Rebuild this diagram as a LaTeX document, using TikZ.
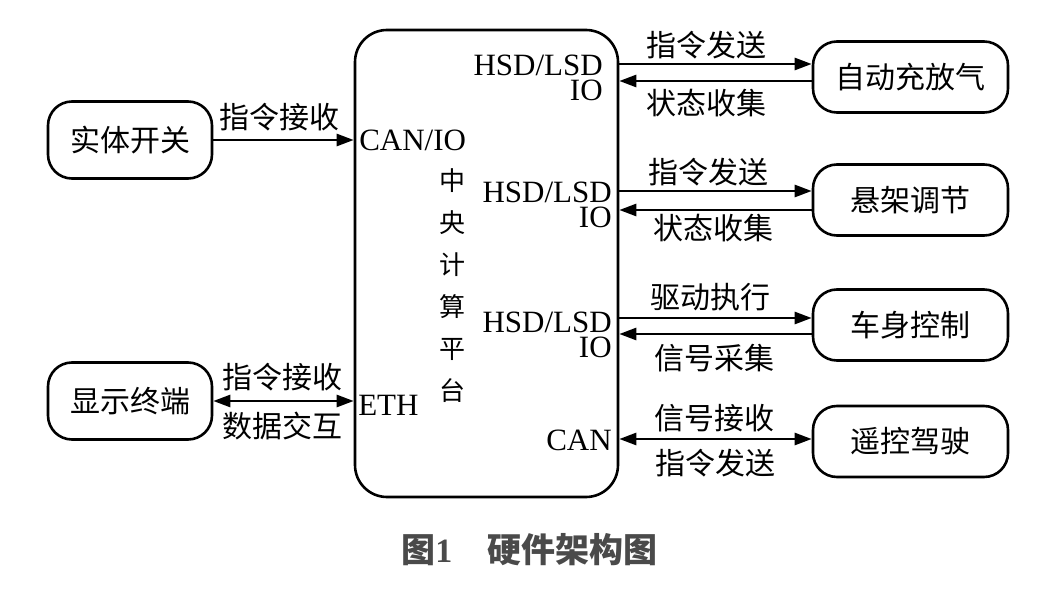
\documentclass[tikz,border=0pt]{standalone}
\usepackage{fontspec}
\setmainfont{Liberation Serif}
\newfontfamily\cjk{Noto Sans CJK SC}
\usetikzlibrary{arrows.meta}
\definecolor{capgray}{HTML}{4A4A4A}
\begin{document}
\begin{tikzpicture}[x=1pt,y=-1pt, line width=2.6pt,
  box/.style={draw, rounded corners=24pt, minimum width=164pt, minimum height=77pt, inner sep=0, font=\cjk\fontsize{30}{32}\selectfont},
  rbox/.style={box, minimum width=195pt, minimum height=71pt},
  lab/.style={inner sep=0, font=\cjk\fontsize{30}{32}\selectfont},
  io/.style={inner sep=0, text height=20.5pt, text depth=0pt, font=\fontsize{31}{32}\selectfont},
  vt/.style={inner sep=0, align=center, font=\cjk\fontsize{26}{42}\selectfont},
  captext/.style={inner sep=0, text=capgray, font=\cjk\bfseries\fontsize{34}{36}\selectfont},
  tip/.style={-{Triangle[length=17pt,width=12pt]}},
  tips/.style={{Triangle[length=17pt,width=12pt]}-{Triangle[length=17pt,width=12pt]}}]
\useasboundingbox (0,0) rectangle (1041,604);
% central platform
\node[draw, rounded corners=32pt, minimum width=263pt, minimum height=467pt, inner sep=0] (cpu) at (486.5,263.5) {};
% left boxes
\node[box] (sw) at (130,140) {实体开关};
\node[box] (disp) at (130,401) {显示终端};
% right boxes
\node[rbox] (air) at (910.5,77) {自动充放气};
\node[rbox] (susp) at (910.5,200) {悬架调节};
\node[rbox] (body) at (910.5,325) {车身控制};
\node[rbox] (rc) at (910.5,441.5) {遥控驾驶};
% texts inside the platform
\node[io, anchor=east] (h1) at (604,65) {HSD/LSD};
\node[io, anchor=east] (i1) at (604,90) {IO};
\node[io, anchor=west] (canio) at (358,140) {CAN/IO};
\node[vt] (name) at (452,286) {中\\央\\计\\算\\平\\台};
\node[io, anchor=east] (h2) at (613,192) {HSD/LSD};
\node[io, anchor=east] (i2) at (613,217) {IO};
\node[io, anchor=east] (h3) at (613,322) {HSD/LSD};
\node[io, anchor=east] (i3) at (613,347) {IO};
\node[io, anchor=east] (can) at (613,440) {CAN};
\node[io, anchor=west] (eth) at (357,405) {ETH};
% connectors left
\draw[tip] (sw.east) -- (sw.east -| cpu.west);
\draw[tips] (disp.east) -- (disp.east -| cpu.west);
% connectors right
\draw[tip] ([yshift=13pt]air.west -| cpu.east) -- ([yshift=13pt]air.west);
\draw[tip] ([yshift=-4pt]air.west) -- ([yshift=-4pt]air.west -| cpu.east);
\draw[tip] ([yshift=9pt]susp.west -| cpu.east) -- ([yshift=9pt]susp.west);
\draw[tip] ([yshift=-10pt]susp.west) -- ([yshift=-10pt]susp.west -| cpu.east);
\draw[tip] ([yshift=7pt]body.west -| cpu.east) -- ([yshift=7pt]body.west);
\draw[tip] ([yshift=-9pt]body.west) -- ([yshift=-9pt]body.west -| cpu.east);
\draw[tips] ([yshift=2.5pt]rc.west -| cpu.east) -- ([yshift=2.5pt]rc.west);
% connector labels
\node[lab] (l1) at (279,117) {指令接收};
\node[lab] (l2) at (282,377) {指令接收};
\node[lab] (l3) at (282,426) {数据交互};
\node[lab] (r1a) at (706,45) {指令发送};
\node[lab] (r1b) at (706,103) {状态收集};
\node[lab] (r2a) at (708,172) {指令发送};
\node[lab] (r2b) at (713,228) {状态收集};
\node[lab] (r3a) at (710,297) {驱动执行};
\node[lab] (r3b) at (714,358) {信号采集};
\node[lab] (r4a) at (714,418) {信号接收};
\node[lab] (r4b) at (715,463) {指令发送};
% caption
\node[captext, anchor=west] (fig) at (400,550) {图\textbf{\rmfamily 1}};
\node[captext, anchor=west] (title) at (486,550) {硬件架构图};
\end{tikzpicture}
\end{document}
